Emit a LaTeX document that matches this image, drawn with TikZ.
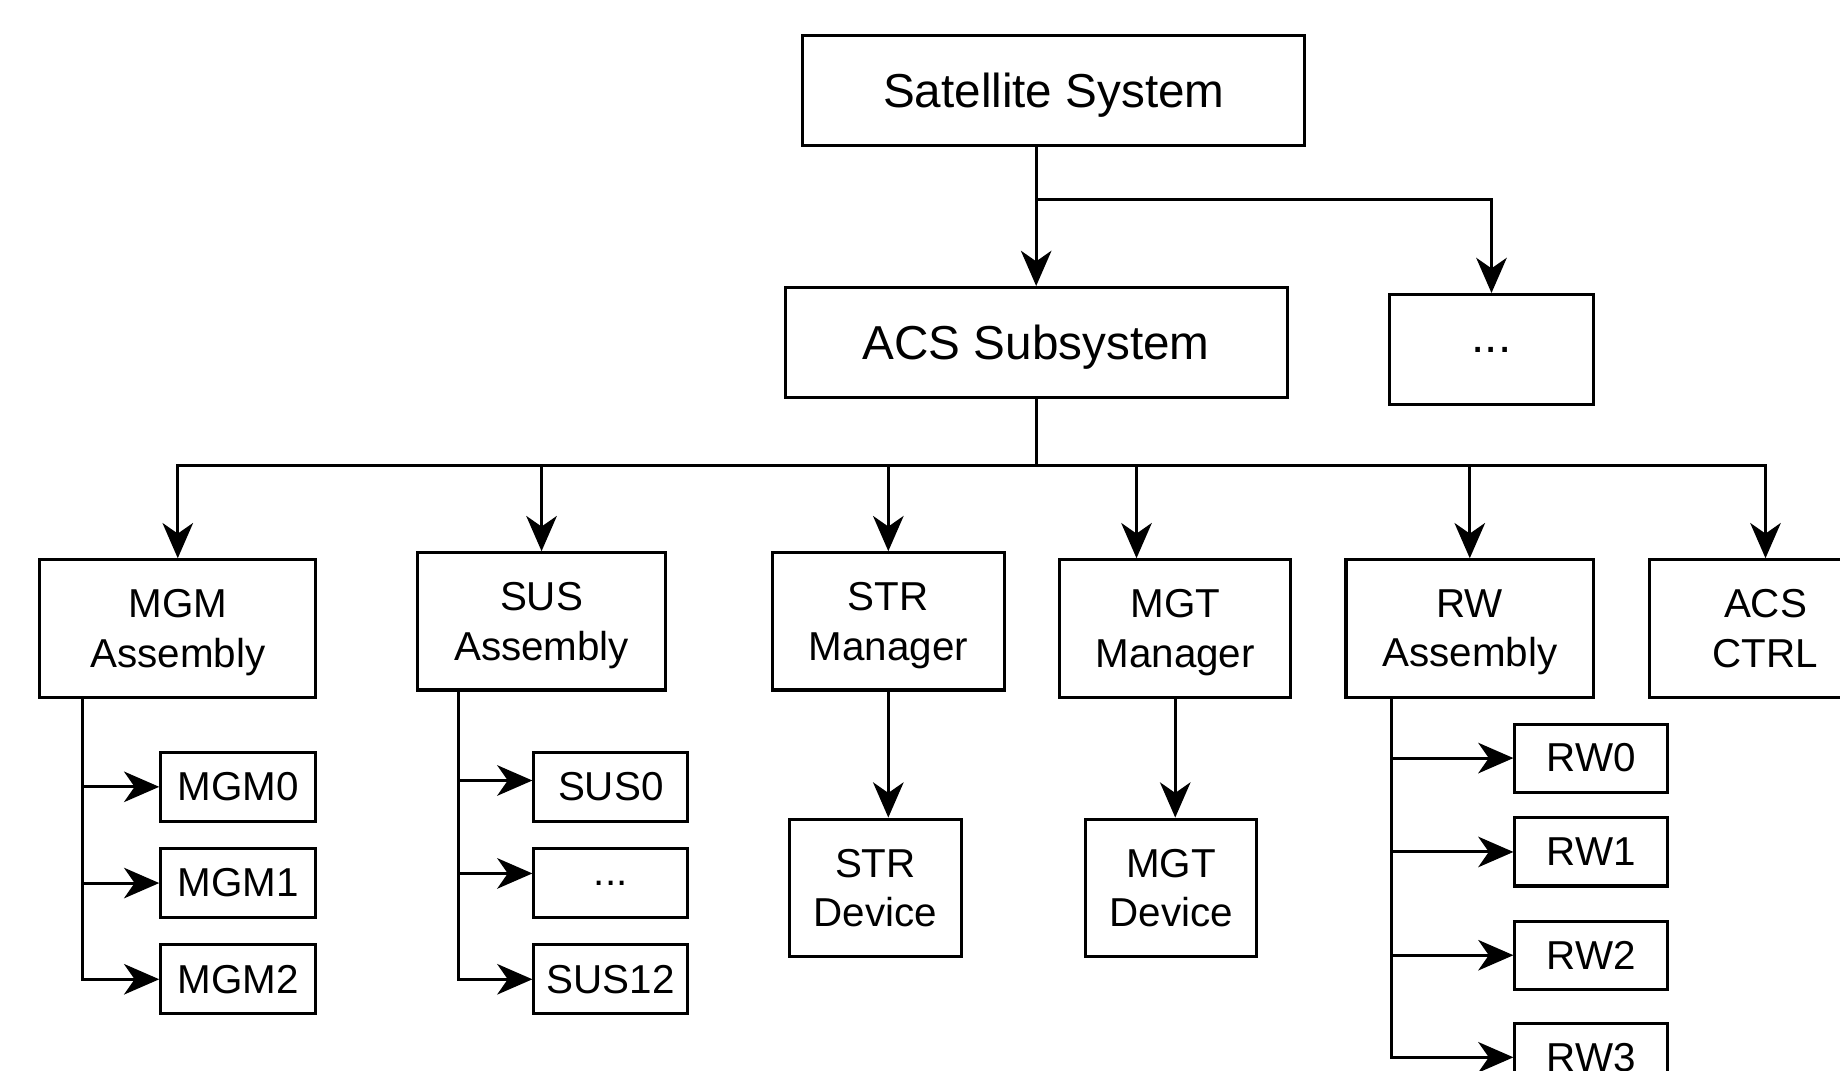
\documentclass[tikz,border=0pt]{standalone}
\usepackage{fontspec}
\setmainfont{Liberation Sans}
\usetikzlibrary{arrows.meta, positioning, calc}
\tikzset{
	box/.style     ={rectangle, draw=black, line width=1.3pt, align=center, inner sep=2pt},
	bigbox/.style  ={box, minimum height=47pt, text depth=0pt, font=\fontsize{20.3}{24}\selectfont},
	midbox/.style  ={box, minimum height=58.5pt, text depth=0pt, font=\fontsize{17.2}{21}\selectfont},
	leaf/.style    ={box, minimum height=29.5pt, minimum width=65.5pt, font=\fontsize{17.2}{21}\selectfont},
	% tree connectors
	sig/.style     ={-{Stealth[length=15pt, width=13pt, inset=4.5pt]}, line width=1.3pt},
	wire/.style    ={line width=1.3pt},
}
\begin{document}
\begin{tikzpicture}[x=0.5pt, y=-0.5pt]
	\useasboundingbox (0,0) rectangle (1568,912);
	\clip (0,0) rectangle (1568,912);
	\node[bigbox, minimum width=214pt] (sat) at (898,77) {Satellite System};
	\node[bigbox, minimum width=214pt] (acs) at (883,292) {ACS Subsystem};
	\node[bigbox, minimum width=87pt] (other) at (1271,298) {...};
	\node[midbox, minimum width=117.5pt] (mgm) at (151.5,535.5) {MGM\\Assembly};
	\node[midbox, minimum width=105.5pt] (sus) at (461.5,529.5) {SUS\\Assembly};
	\node[midbox, minimum width=99pt] (strm) at (757,529.5) {STR\\Manager};
	\node[midbox, minimum width=98.5pt] (mgtm) at (1001.5,535.5) {MGT\\Manager};
	\node[midbox, minimum width=105.5pt] (rw) at (1252.5,535.5) {RW\\Assembly};
	\node[midbox, minimum width=98.5pt] (ctrl) at (1504.5,535.5) {ACS\\CTRL};
	\node[midbox, minimum width=73pt] (strd) at (746,756.5) {STR\\Device};
	\node[midbox, minimum width=73pt] (mgtd) at (998,756.5) {MGT\\Device};
	\node[leaf, minimum width=66pt] (mgm0) at (203,670.5) {MGM0};
	\node[leaf, minimum width=66pt, below=10.2pt of mgm0] (mgm1) {MGM1};
	\node[leaf, minimum width=66pt, below=10.2pt of mgm1] (mgm2) {MGM2};
	\node[leaf] (sus0) at (520.5,670.5) {SUS0};
	\node[leaf, below=10.2pt of sus0] (susd) {...};
	\node[leaf, below=10.2pt of susd] (sus12) {SUS12};
	\node[leaf, minimum width=65pt, minimum height=29pt] (rw0) at (1356,646) {RW0};
	\node[leaf, minimum width=65pt, minimum height=29pt, below=9.7pt of rw0] (rw1) {RW1};
	\node[leaf, minimum width=65pt, minimum height=29pt, below=13.7pt of rw1] (rw2) {RW2};
	\node[leaf, minimum width=65pt, minimum height=29pt, below=13.2pt of rw2] (rw3) {RW3};
	\coordinate (j0) at (883,170); \coordinate (j1) at (883,397);
	\coordinate (mgmb) at (70,594); \coordinate (susb) at (391,588); \coordinate (rwb) at (1186,594);
	\draw[sig] (sat.south -| acs.north) -- (acs.north); \draw[sig] (j0) -| (other.north);
	\draw[wire] (acs.south) -- (j1);
	\draw[sig] (j1) -| (mgm.north); \draw[sig] (j1) -| (sus.north); \draw[sig] (j1) -| (strm.north);
	\draw[sig] (j1) -| ([xshift=-16.5pt]mgtm.north); \draw[sig] (j1) -| (rw.north); \draw[sig] (j1) -| (ctrl.north);
	\draw[sig] (strm.south) -- (strm.south |- strd.north); \draw[sig] (mgtm.south) -- (mgtm.south |- mgtd.north);
	\draw[sig] (mgmb) |- (mgm0.west); \draw[sig] (mgmb) |- (mgm1.west); \draw[sig] (mgmb) |- (mgm2.west);
	\draw[sig] (susb) |- ([yshift=2.7pt]sus0.west); \draw[sig] (susb) |- ([yshift=4.1pt]susd.west); \draw[sig] (susb) |- (sus12.west);
	\draw[sig] (rwb) |- (rw0.west); \draw[sig] (rwb) |- (rw1.west); \draw[sig] (rwb) |- (rw2.west); \draw[sig] (rwb) |- (rw3.west);
\end{tikzpicture}
\end{document}
